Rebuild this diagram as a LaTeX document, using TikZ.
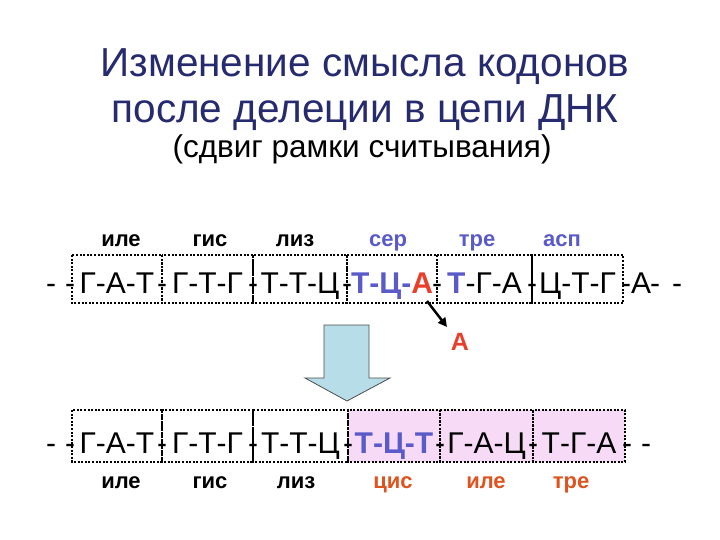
\documentclass[tikz,border=0pt]{standalone}
\usepackage{fontspec}
\setmainfont{Liberation Sans}
\usetikzlibrary{arrows.meta}
\definecolor{navy}{RGB}{38,42,110}
\definecolor{seqblue}{RGB}{90,90,200}
\definecolor{delred}{RGB}{232,64,42}
\definecolor{labred}{RGB}{224,82,30}
\definecolor{pinkfill}{RGB}{246,218,246}
\definecolor{arrowfill}{RGB}{183,222,232}
\newcommand{\bb}[1]{\textbf{\color{seqblue}#1}}
\newcommand{\rr}[1]{\textbf{\color{delred}#1}}
\begin{document}
\begin{tikzpicture}[x=1pt,y=-1pt,
  codon/.style={inner sep=0pt, anchor=base, font=\fontsize{30}{36}\selectfont},
  lab/.style={inner sep=0pt, anchor=base, font=\bfseries\fontsize{22}{26}\selectfont},
  framebox/.style={draw, line width=2pt, dash pattern=on 2pt off 1.6pt, inner sep=0pt},
]
\useasboundingbox (0,0) rectangle (720,540);
\fill[white] (0,0) rectangle (720,540);

% title
\node[anchor=base, inner sep=0pt, text=navy, font=\fontsize{40.5}{48}\selectfont] (t1) at (365,77) {Изменение смысла кодонов};
\node[anchor=base, inner sep=0pt, text=navy, font=\fontsize{40.5}{48}\selectfont] (t2) at (365,123) {после делеции в цепи ДНК};
\node[anchor=base, inner sep=0pt, font=\fontsize{31.5}{36}\selectfont] (t3) at (362,158) {(сдвиг рамки считывания)};

% top row boxes
\foreach \l/\r/\n in {72/162/1,162/253/2,253/347/3,347/437/4,437/532/5,532/623/6}{
  \draw[framebox] (\l,255) rectangle (\r,303);
}
% bottom row boxes
\fill[pinkfill] (348,410) rectangle (625,462);
\foreach \l/\r/\n in {72/162/1,162/253/2,253/348/3,348/440/4,440/533/5,533/625/6}{
  \draw[framebox] (\l,410) rectangle (\r,462);
}

% top row labels
\node[lab] (ta1) at (121,246) {иле};
\node[lab] (ta2) at (210,246) {гис};
\node[lab] (ta3) at (295,246) {лиз};
\node[lab, text=seqblue] (ta4) at (388,246) {сер};
\node[lab, text=seqblue] (ta5) at (477,246) {тре};
\node[lab, text=seqblue] (ta6) at (562,246) {асп};

% top row sequence
\node[codon] (tc1) at (117,293) {Г-А-Т};
\node[codon] (tc2) at (207.5,293) {Г-Т-Г};
\node[codon] (tc3) at (300,293) {Т-Т-Ц};
\node[codon] (tc4) at (392,293) {\bb{Т-Ц-}\rr{А}};
\node[codon] (tc5) at (484.5,293) {\bb{Т}-Г-А};
\node[codon] (tc6) at (577.5,293) {Ц-Т-Г};
\foreach \x/\n in {51/0,70/1,162/2,253/3,347/4,437/5,532/6,626/7,655/8,677/9}{
  \node[codon] (td\n) at (\x,293) {-};
}
\node[codon] (tend) at (641,293) {А};

% bottom row sequence
\node[codon] (bc1) at (117,453) {Г-А-Т};
\node[codon] (bc2) at (207.5,453) {Г-Т-Г};
\node[codon] (bc3) at (300.5,453) {Т-Т-Ц};
\node[codon] (bc4) at (394,453) {\bb{Т-Ц-Т}};
\node[codon] (bc5) at (486.5,453) {Г-А-Ц};
\node[codon] (bc6) at (579,453) {Т-Г-А};
\foreach \x/\n in {51/0,70/1,162/2,253/3,348/4,440/5,533/6,627/7,646/8}{
  \node[codon] (bd\n) at (\x,453) {-};
}

% bottom row labels
\node[lab] (ba1) at (121,488) {иле};
\node[lab] (ba2) at (210,488) {гис};
\node[lab] (ba3) at (296,488) {лиз};
\node[lab, text=labred] (ba4) at (393,488) {цис};
\node[lab, text=labred] (ba5) at (486,488) {иле};
\node[lab, text=labred] (ba6) at (571,488) {тре};

% deleted nucleotide
\coordinate (delA) at (427,301);
\coordinate (tipA) at (447,327);
\node[inner sep=0pt, anchor=base, text=delred, font=\bfseries\fontsize{25}{30}\selectfont] (insA) at (460,350) {А};
\draw[line width=2.5pt, -{Triangle[length=9pt,width=9pt]}] (delA) -- (tipA);

% big down arrow
\draw[fill=arrowfill, draw=black!70, line width=0.8pt]
  (324,325) -- (369,325) -- (369,378) -- (390,378) -- (347,401) -- (305,378) -- (324,378) -- cycle;
\end{tikzpicture}
\end{document}
